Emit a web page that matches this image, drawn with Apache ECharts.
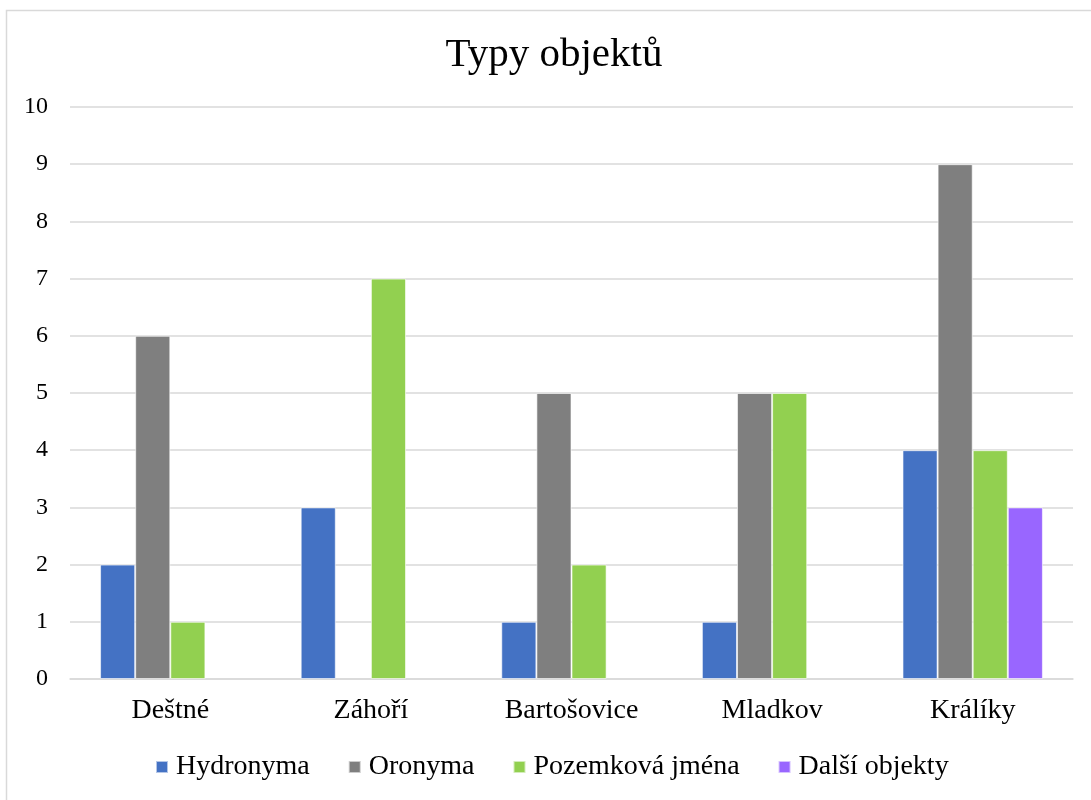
<!DOCTYPE html>
<html><head><meta charset="utf-8">
<script src="https://cdn.jsdelivr.net/npm/echarts@6/dist/echarts.min.js"></script>
<style>html,body{margin:0;padding:0;background:#fff}#c{width:1091px;height:800px}</style>
</head><body><div id="c"></div>
<script>
const categories = ['Deštné', 'Záhoří', 'Bartošovice', 'Mladkov', 'Králíky'];
const hydronyma = [2, 3, 1, 1, 4];
const oronyma = [6, 0, 5, 5, 9];
const pozemkova = [1, 7, 2, 5, 4];
const dalsi = [0, 0, 0, 0, 3];
const seriesNames = ['Hydronyma', 'Oronyma', 'Pozemková jména', 'Další objekty'];
const colors = ['#4472C4', '#7F7F7F', '#92D050', '#9966FF'];
const font = '"Liberation Serif", "DejaVu Serif", serif';

const chart = echarts.init(document.getElementById('c'), null, {renderer: 'canvas'});
const mk = (name, data, i) => ({
  name, type: 'bar', data: data.map(v => v === 0 ? null : v),
  barGap: '0%', barCategoryGap: '30%',
  itemStyle: {color: colors[i], borderColor: 'rgba(255,255,255,0.6)', borderWidth: 1},
  emphasis: {disabled: true}
});
chart.setOption({
  animation: false,
  textStyle: {fontFamily: font},
  graphic: [{type: 'rect', shape: {x: 6.5, y: 10.5, width: 1110, height: 800}, style: {fill: 'none', stroke: '#d9d9d9', lineWidth: 1.5}, silent: true}],
  title: {text: 'Typy objektů', left: 549, top: 30, textAlign: 'center',
    textStyle: {fontFamily: font, fontSize: 41, fontWeight: 'normal', color: '#000'}},
  grid: {left: 70, right: 18, top: 107, bottom: 121, containLabel: false},
  legend: {bottom: 14, left: 150, itemWidth: 12, itemHeight: 12, itemGap: 38, icon: 'rect',
    textStyle: {fontFamily: font, fontSize: 28, color: '#000', padding: [0, 0, 0, 3]},
    data: seriesNames},
  xAxis: {type: 'category', data: categories,
    axisLine: {lineStyle: {color: '#d9d9d9', width: 1.5}}, axisTick: {show: false},
    axisLabel: {fontFamily: font, fontSize: 28, color: '#000', margin: 18}},
  yAxis: {type: 'value', min: 0, max: 10, interval: 1,
    axisLine: {show: false}, axisTick: {show: false},
    splitLine: {lineStyle: {color: '#d9d9d9', width: 1.5}},
    axisLabel: {fontFamily: font, fontSize: 24, color: '#000', margin: 22}},
  series: [mk(seriesNames[0], hydronyma, 0), mk(seriesNames[1], oronyma, 1), mk(seriesNames[2], pozemkova, 2), mk(seriesNames[3], dalsi, 3)]
});
</script></body></html>
